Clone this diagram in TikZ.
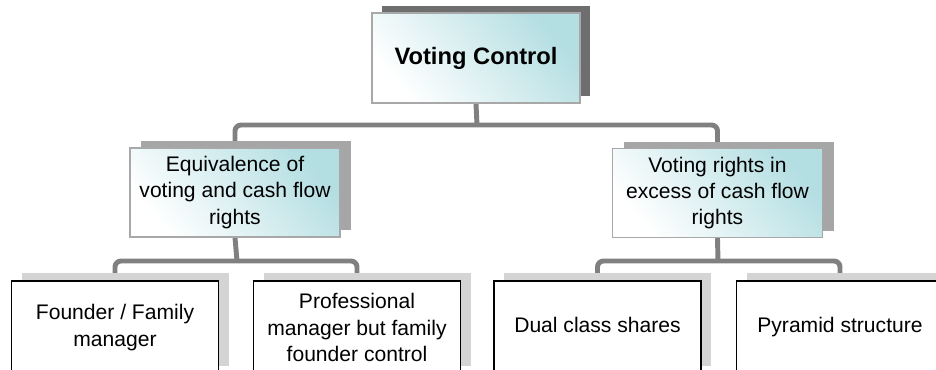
\documentclass[tikz,border=0pt]{standalone}
\usepackage{fontspec}
\setmainfont{Liberation Sans}
\usetikzlibrary{shadows, backgrounds}
\definecolor{tealtint}{HTML}{B3DEE2}
\definecolor{shadowdark}{HTML}{6E6E6E}
\definecolor{shadowmid}{HTML}{A6A6A6}
\definecolor{shadowlight}{HTML}{D4D4D4}
\definecolor{conngray}{HTML}{808080}
\definecolor{edgegray}{HTML}{A8A8A8}

\begin{document}
\begin{tikzpicture}[
	every node/.style={rectangle, align=center, inner sep=0pt, font=\fontsize{12}{15}\selectfont},
	tinted/.style={draw=edgegray, line width=0.8pt, bottom color=white, top color=tealtint, shading angle=-50},
	topbox/.style={tinted, minimum width=4.16cm, minimum height=1.8cm, font=\bfseries\fontsize{13.5}{16}\selectfont,
		drop shadow={shadow xshift=0.2cm, shadow yshift=0.14cm, fill=shadowdark, opacity=1}},
	midbox/.style={tinted, minimum width=4.2cm, minimum height=1.78cm,
		drop shadow={shadow xshift=0.22cm, shadow yshift=0.14cm, fill=shadowmid, opacity=1}},
	leafbox/.style={draw=black, fill=white, line width=1.1pt, minimum width=4.14cm, minimum height=1.86cm,
		drop shadow={shadow xshift=0.2cm, shadow yshift=0.16cm, fill=shadowlight, opacity=1}},
	conn/.style={draw=conngray, line width=2.8pt, rounded corners=0.12cm}]
	\useasboundingbox (0,0) rectangle (18.72,-7.38);
	\clip (0,0) rectangle (18.72,-7.38);

	% Nodes
	\node[topbox] (vc) at (9.52, -1.16) {Voting Control};
	\node[midbox] (equiv) at (4.7, -3.85) {Equivalence of\\voting and cash flow\\rights};
	\node[midbox] (excess) at (14.35, -3.86) {Voting rights in\\excess of cash flow\\rights};
	\node[leafbox] (founder) at (2.3, -6.55) {Founder / Family\\manager};
	\node[leafbox] (prof) at (7.14, -6.55) {Professional\\manager but family\\founder control};
	\node[leafbox] (dual) at (11.95, -6.55) {\strut Dual class shares};
	\node[leafbox] (pyramid) at (16.8, -6.55) {\strut Pyramid structure};

	\coordinate (j0) at (9.54, -2.5);
	\coordinate (j1) at (4.74, -5.22);
	\coordinate (j2) at (14.36, -5.22);

	% Edges
	\begin{scope}[on background layer]
		\draw[conn] (vc.south) -- (j0);
		\draw[conn] (equiv.north) |- (j0) -| (excess.north);
		\draw[conn] (equiv.south) -- (j1);
		\draw[conn] (founder.north) |- (j1) -| (prof.north);
		\draw[conn] (excess.south) -- (j2);
		\draw[conn] (dual.north) |- (j2) -| (pyramid.north);
	\end{scope}
\end{tikzpicture}
\end{document}
